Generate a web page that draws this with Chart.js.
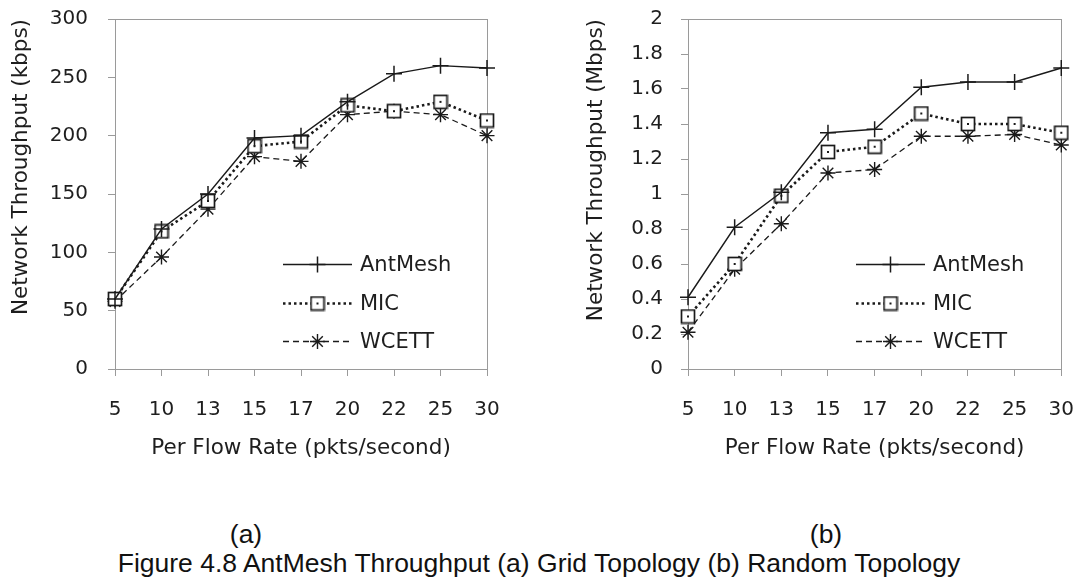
<!DOCTYPE html>
<html>
<head>
<meta charset="utf-8">
<title>AntMesh Throughput</title>
<script src="https://cdn.jsdelivr.net/npm/chart.js@4.4.0/dist/chart.umd.min.js"></script>
<style>
  body { margin: 0; background: #fff; width: 1078px; height: 580px; position: relative; overflow: hidden; }
  /* canvases start a little above the page so the tick-label overflow lands off screen */
  canvas { position: absolute; top: -13px; }
  #grid { left: 0; }
  #random { left: 540px; }
  .cap {
    position: absolute;
    font-family: "Liberation Sans", Arial, sans-serif;
    font-size: 26.5px;
    line-height: 26px;
    color: #111;
    white-space: nowrap;
    transform: translateX(-50%);
  }
</style>
</head>
<body>
<canvas id="grid" width="540" height="493"></canvas>
<canvas id="random" width="556" height="493"></canvas>
<div class="cap" style="left:246px; top:521px">(a)</div>
<div class="cap" style="left:826px; top:521px">(b)</div>
<div class="cap" style="left:539px; top:550px">Figure 4.8 AntMesh Throughput (a) Grid Topology (b) Random Topology</div>

<script>
// per flow rate (pkts/second)
var rates = ['5', '10', '13', '15', '17', '20', '22', '25', '30'];

// grid topology, kbps
var gridAntMesh = [60, 120, 150, 198, 200, 229, 253, 260, 258];
var gridMIC     = [60, 118, 144, 191, 195, 226, 221, 229, 213];
var gridWCETT   = [58,  96, 137, 182, 178, 218, 221, 218, 200];

// random topology, Mbps
var randAntMesh = [0.41, 0.81, 1.01, 1.35, 1.37, 1.61, 1.64, 1.64, 1.72];
var randMIC     = [0.30, 0.60, 0.99, 1.24, 1.27, 1.46, 1.40, 1.40, 1.35];
var randWCETT   = [0.21, 0.57, 0.83, 1.12, 1.14, 1.33, 1.33, 1.34, 1.28];

// y axis ranges
var gridYMax = 300, gridYStep = 50;
var randYMax = 2, randYStep = 0.2;

var ink = '#1a1a1a';
var textInk = '#1e1e1e';
var axisGrey = '#9a9a9a';
var face = 'DejaVu Sans';

Chart.defaults.font.family = face;
Chart.defaults.color = textInk;

// little square with a dot in it, used for MIC
function boxMarker() {
  var c = document.createElement('canvas');
  c.width = 16; c.height = 16;
  var g = c.getContext('2d');
  g.fillStyle = '#fff';
  g.fillRect(1.5, 1.5, 13, 13);
  g.strokeStyle = ink;
  g.lineWidth = 1.7;
  g.strokeRect(1.5, 1.5, 13, 13);
  g.fillStyle = ink;
  g.fillRect(7, 7, 2, 2);
  return c;
}
var box = boxMarker();

function lineSets(a, m, w) {
  return [
    { label: 'AntMesh', data: a, borderColor: ink, borderWidth: 1.4,
      pointStyle: 'cross', pointRadius: 8, pointBorderWidth: 1.5, pointBorderColor: ink },
    { label: 'MIC', data: m, borderColor: ink, borderWidth: 2.6, borderDash: [2.5, 3],
      pointStyle: box, pointRadius: 7, pointBorderWidth: 1.7 },
    { label: 'WCETT', data: w, borderColor: ink, borderWidth: 1.3, borderDash: [6, 4],
      pointStyle: 'star', pointRadius: 7.5, pointBorderWidth: 1.4, pointBorderColor: ink }
  ];
}

// grey box round the plot (top and right sides)
var framePlugin = {
  id: 'frame',
  beforeDatasetsDraw: function(chart) {
    var a = chart.chartArea, ctx = chart.ctx;
    ctx.save();
    ctx.strokeStyle = axisGrey;
    ctx.lineWidth = 1;
    ctx.strokeRect(Math.round(a.left) + 0.5, Math.round(a.top) + 0.5,
                   Math.round(a.right - a.left), Math.round(a.bottom - a.top));
    ctx.restore();
  }
};

// series key drawn inside the plot, lower right
var keyPlugin = {
  id: 'seriesKey',
  afterDatasetsDraw: function(chart) {
    var a = chart.chartArea, ctx = chart.ctx;
    var x0 = a.left + 168, x1 = a.left + 237, tx = a.left + 245;
    var rows = [245, 284, 322];
    chart.data.datasets.forEach(function(ds, i) {
      var y = Math.round(a.top + rows[i]) + 0.5;
      ctx.save();
      ctx.strokeStyle = ds.borderColor;
      ctx.lineWidth = ds.borderWidth;
      ctx.setLineDash(ds.borderDash || []);
      ctx.beginPath();
      ctx.moveTo(x0, y);
      ctx.lineTo(x1, y);
      ctx.stroke();
      ctx.setLineDash([]);
      ctx.lineWidth = ds.pointBorderWidth;
      ctx.strokeStyle = ink;
      ctx.fillStyle = '#fff';
      Chart.helpers.drawPoint(ctx, {
        pointStyle: ds.pointStyle, radius: ds.pointRadius, rotation: 0, borderWidth: ds.pointBorderWidth
      }, (x0 + x1) / 2, y);
      ctx.fillStyle = textInk;
      ctx.font = '21px "' + face + '"';
      ctx.textBaseline = 'middle';
      ctx.fillText(ds.label, tx, y + 1);
      ctx.restore();
    });
  }
};

function drawChart(id, sets, o) {
  var ctx = document.getElementById(id).getContext('2d');
  return new Chart(ctx, {
    type: 'line',
    data: { labels: rates, datasets: sets },
    plugins: [framePlugin, keyPlugin],
    options: {
      responsive: false,
      animation: false,
      layout: { padding: { top: 32, right: o.right, bottom: 0, left: 0 } },
      elements: { line: { tension: 0, fill: false } },
      plugins: { legend: { display: false }, tooltip: { enabled: false } },
      scales: {
        x: {
          type: 'category',
          offset: false,
          grid: { drawOnChartArea: false, tickLength: 7, color: axisGrey },
          border: { color: axisGrey },
          ticks: { color: textInk, font: { size: 20 }, padding: 22, maxRotation: 0, autoSkip: false },
          title: { display: true, text: 'Per Flow Rate (pkts/second)', color: textInk,
                   font: { size: 21.5 }, padding: { top: 0, bottom: 19 } },
          afterFit: function(s) { s.height = 111; }
        },
        y: {
          min: 0,
          max: o.max,
          grid: { drawOnChartArea: false, tickLength: 7, color: axisGrey },
          border: { color: axisGrey },
          ticks: {
            stepSize: o.step,
            color: textInk,
            font: { size: 20 },
            padding: o.tickPad,
            callback: function(v) { return String(+v.toFixed(1)); }
          },
          title: { display: true, text: o.title, color: textInk, align: 'end',
                   font: { size: 21.5 }, padding: { top: o.titlePad, bottom: 0 } },
          afterFit: function(s) { s.width = o.width; }
        }
      }
    }
  });
}

drawChart('grid', lineSets(gridAntMesh, gridMIC, gridWCETT), {
  max: gridYMax, step: gridYStep, title: 'Network Throughput (kbps)',
  width: 115, right: 53, tickPad: 20, titlePad: 8.6
});

drawChart('random', lineSets(randAntMesh, randMIC, randWCETT), {
  max: randYMax, step: randYStep, title: 'Network Throughput (Mbps)',
  width: 148, right: 0, tickPad: 18, titlePad: 44
});
</script>
</body>
</html>
